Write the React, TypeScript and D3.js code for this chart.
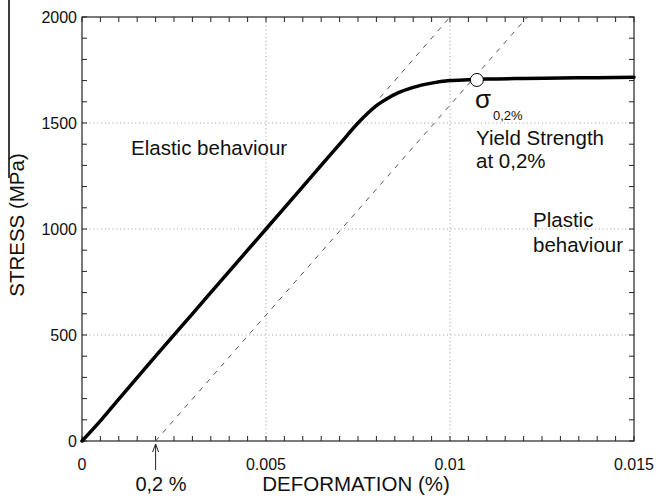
import React from "react";
import * as d3 from "d3";

const strain = [0, 0.0005, 0.001, 0.002, 0.003, 0.004, 0.005, 0.006, 0.007, 0.0075, 0.0078, 0.008, 0.0083, 0.0086, 0.009, 0.0095, 0.01, 0.0105, 0.011, 0.012, 0.013, 0.014, 0.015];
const stress = [0, 95, 198, 400, 600, 800, 1000, 1200, 1400, 1500, 1552, 1582, 1616, 1643, 1668, 1688, 1700, 1704, 1707, 1710, 1712, 1714, 1716];

const elasticExtStrain = [0.0081, 0.01];
const elasticExtStress = [1620, 2000];
const offsetStrain = [0.002, 0.0121];
const offsetStress = [0, 2000];

const yieldPoint = { strain: 0.01073, stress: 1703 };

const xMajor = [0, 0.005, 0.01, 0.015];
const xMajorLabels = ["0", "0.005", "0.01", "0.015"];
const yMajor = [0, 500, 1000, 1500, 2000];
const yMajorLabels = ["0", "500", "1000", "1500", "2000"];
const xGrid = [0.005, 0.01];
const yGrid = [500, 1000, 1500];

const W = 657;
const H = 498;
const FONT = "'Liberation Sans', Arial, sans-serif";

export default function App() {
  const x = d3.scaleLinear().domain([0, 0.015]).range([82, 634]);
  const y = d3.scaleLinear().domain([0, 2000]).range([441, 17]);
  const [x0, x1] = x.range();
  const [y0, y1] = y.range();

  const xMinor = d3.range(0, 0.015 + 1e-9, 0.0005);
  const yMinor = d3.range(0, 2000 + 1e-6, 100);

  const curvePts: [number, number][] = strain.map((s, i) => [s, stress[i]]);
  const line = d3
    .line<[number, number]>()
    .x((d) => x(d[0]))
    .y((d) => y(d[1]))
    .curve(d3.curveMonotoneX);
  const straight = d3
    .line<[number, number]>()
    .x((d) => x(d[0]))
    .y((d) => y(d[1]));

  const ext: [number, number][] = elasticExtStrain.map((s, i) => [s, elasticExtStress[i]]);
  const off: [number, number][] = offsetStrain.map((s, i) => [s, offsetStress[i]]);
  const tl = 5;
  const arrowX = x(0.002);

  return (
    <svg
      width={W}
      height={H}
      style={{ position: "absolute", left: 0, top: 0, background: "#fff" }}
      fontFamily={FONT}
    >
      <rect x={0} y={0} width={W} height={H} fill="#fff" />
      {/* grid */}
      {xGrid.map((v) => (
        <line key={"gx" + v} x1={x(v)} x2={x(v)} y1={y0} y2={y1} stroke="#a8a8a8" strokeWidth={1} strokeDasharray="1.2,2.6" />
      ))}
      {yGrid.map((v) => (
        <line key={"gy" + v} x1={x0} x2={x1} y1={y(v)} y2={y(v)} stroke="#a8a8a8" strokeWidth={1} strokeDasharray="1.2,2.6" />
      ))}
      {/* minor ticks */}
      {xMinor.map((v, i) => (
        <g key={"tx" + i}>
          <line x1={x(v)} x2={x(v)} y1={y0} y2={y0 - tl} stroke="#222" strokeWidth={1} />
          <line x1={x(v)} x2={x(v)} y1={y1} y2={y1 + tl} stroke="#222" strokeWidth={1} />
        </g>
      ))}
      {yMinor.map((v, i) => (
        <g key={"ty" + i}>
          <line x1={x0} x2={x0 + tl} y1={y(v)} y2={y(v)} stroke="#222" strokeWidth={1} />
          <line x1={x1} x2={x1 - tl} y1={y(v)} y2={y(v)} stroke="#222" strokeWidth={1} />
        </g>
      ))}
      {/* frame */}
      <rect x={x0} y={y1} width={x1 - x0} height={y0 - y1} fill="none" stroke="#222" strokeWidth={1.2} />
      {/* dashed construction lines */}
      <path d={straight(ext) || ""} fill="none" stroke="#555" strokeWidth={1} strokeDasharray="5,6" />
      <path d={straight(off) || ""} fill="none" stroke="#555" strokeWidth={1} strokeDasharray="5,6" />
      {/* curve */}
      <path d={line(curvePts) || ""} fill="none" stroke="#000" strokeWidth={3.5} strokeLinejoin="round" strokeLinecap="round" />
      <circle cx={x(yieldPoint.strain)} cy={y(yieldPoint.stress)} r={6.5} fill="#fff" stroke="#000" strokeWidth={1} />
      {/* tick labels */}
      {xMajor.map((v, i) => (
        <text key={"lx" + v} x={x(v)} y={470} textAnchor="middle" fontSize={16} fill="#111">
          {xMajorLabels[i]}
        </text>
      ))}
      {yMajor.map((v, i) => (
        <text key={"ly" + v} x={77} y={y(v) + 6} textAnchor="end" fontSize={16} fill="#111">
          {yMajorLabels[i]}
        </text>
      ))}
      {/* axis titles */}
      <text x={356} y={491} textAnchor="middle" fontSize={20.5} fill="#111">
        DEFORMATION (%)
      </text>
      <text transform="translate(24,225) rotate(-90)" textAnchor="middle" fontSize={20.5} fill="#111">
        STRESS (MPa)
      </text>
      <line x1={9} x2={9} y1={0} y2={178} stroke="#000" strokeWidth={1.5} />
      {/* 0,2 % arrow */}
      <line x1={arrowX} x2={arrowX} y1={470} y2={444} stroke="#222" strokeWidth={1} />
      <path d={`M${arrowX - 3},${452} L${arrowX},${444} L${arrowX + 3},${452}`} fill="none" stroke="#222" strokeWidth={1} />
      <text x={161} y={491} textAnchor="middle" fontSize={20} fill="#111">
        0,2 %
      </text>
      {/* annotations */}
      <text x={131} y={155} fontSize={20.5} fill="#111">
        Elastic behaviour
      </text>
      <text x={475} y={108} fontSize={26} fill="#111">
        σ
      </text>
      <text x={493} y={120} fontSize={13} fill="#111">
        0,2%
      </text>
      <text x={476} y={145} fontSize={20.5} fill="#111">
        Yield Strength
      </text>
      <text x={476} y={168} fontSize={20.5} fill="#111">
        at 0,2%
      </text>
      <text x={533} y={227} fontSize={20.5} fill="#111">
        Plastic
      </text>
      <text x={533} y={252} fontSize={20.5} fill="#111">
        behaviour
      </text>
    </svg>
  );
}
